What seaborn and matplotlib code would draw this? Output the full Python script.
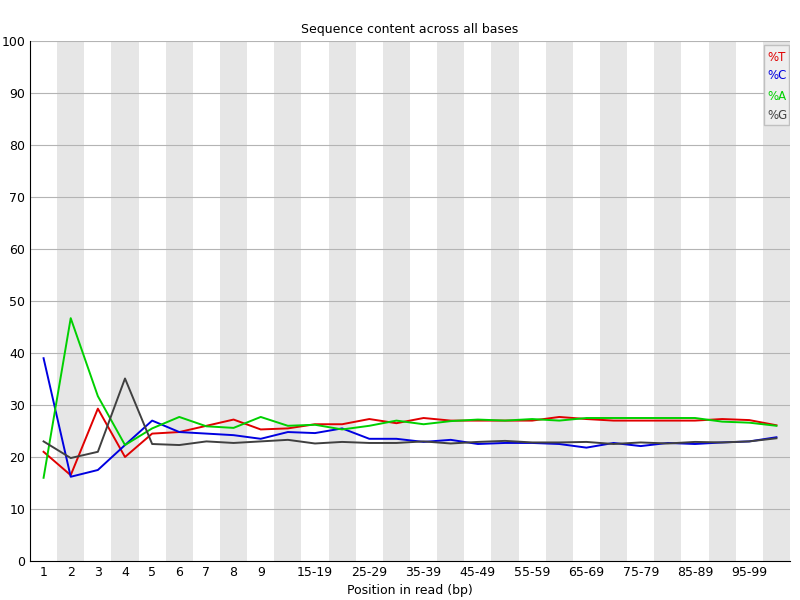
import matplotlib
matplotlib.use("Agg")
import matplotlib.pyplot as plt
import seaborn as sns
import pandas as pd

positions = ["1","2","3","4","5","6","7","8","9"] + [f"{s}-{s+4}" for s in range(10, 100, 5)] + ["100-101"]
pct_T = [21,16.5,29.3,20,24.5,24.8,26,27.2,25.3,25.5,26.3,26.3,27.3,26.5,27.5,27,27,27,27,27.7,27.3,27,27,27,27,27.3,27.1,26.1]
pct_C = [39,16.2,17.5,22.3,27,24.8,24.5,24.2,23.5,24.8,24.6,25.5,23.5,23.5,22.9,23.3,22.5,22.7,22.7,22.5,21.8,22.7,22.1,22.7,22.5,22.8,23,23.8]
pct_A = [16,46.7,31.7,22.3,25.5,27.7,25.9,25.6,27.7,26,26.2,25.3,26,27,26.3,26.9,27.2,27,27.3,27,27.5,27.5,27.5,27.5,27.5,26.8,26.6,26]
pct_G = [23,19.8,21,35.1,22.5,22.3,23,22.7,23,23.3,22.6,22.9,22.7,22.7,23,22.6,22.9,23.1,22.8,22.8,22.9,22.5,22.8,22.6,22.9,22.8,23,23.6]
series_names = ["%T", "%C", "%A", "%G"]
colors = ["#e00000", "#0000e0", "#00d000", "#404040"]

n = len(positions)
rows = []
for name, vals in zip(series_names, [pct_T, pct_C, pct_A, pct_G]):
    for i, v in enumerate(vals):
        rows.append({"x": i, "pct": v, "base": name})
df = pd.DataFrame(rows)

fig = plt.figure(figsize=(8, 6), dpi=100)
ax = fig.add_axes([30/800, 39/600, 760/800, 520/600])
for i in range(n):
    if i % 2 == 1:
        ax.axvspan(i - 0.5, i + 0.5, color="#e6e6e6", zorder=0, lw=0)
for y in range(10, 101, 10):
    ax.axhline(y, color="#b4b4b4", lw=0.8, zorder=1)
sns.lineplot(data=df, x="x", y="pct", hue="base", palette=colors, ax=ax, lw=1.4, legend=False, zorder=3)
ax.set_xlim(-0.5, n - 0.5)
ax.set_ylim(0, 100)
ax.set_yticks(range(0, 101, 10))
ticks = list(range(9)) + list(range(10, n, 2))
ax.set_xticks(ticks)
ax.set_xticklabels([positions[i] for i in ticks], fontsize=9)
ax.tick_params(axis="y", labelsize=9, length=0)
ax.tick_params(axis="x", length=0)
for s in ["top", "right"]:
    ax.spines[s].set_visible(False)
ax.set_xlabel("Position in read (bp)", fontsize=9)
ax.set_ylabel("")
ax.set_title("Sequence content across all bases", fontsize=9)
# legend
box_y = [96.9, 93.3, 89.4, 85.6]
ax.add_patch(plt.Rectangle((n - 1.45, 83.8), 0.93, 15.5, facecolor="#eeeeee", edgecolor="#c0c0c0", zorder=4))
for name, c, yy in zip(series_names, colors, box_y):
    ax.text(n - 1.35, yy, name, color=c, fontsize=8.5, va="center", zorder=5)
fig.savefig("out.png")
